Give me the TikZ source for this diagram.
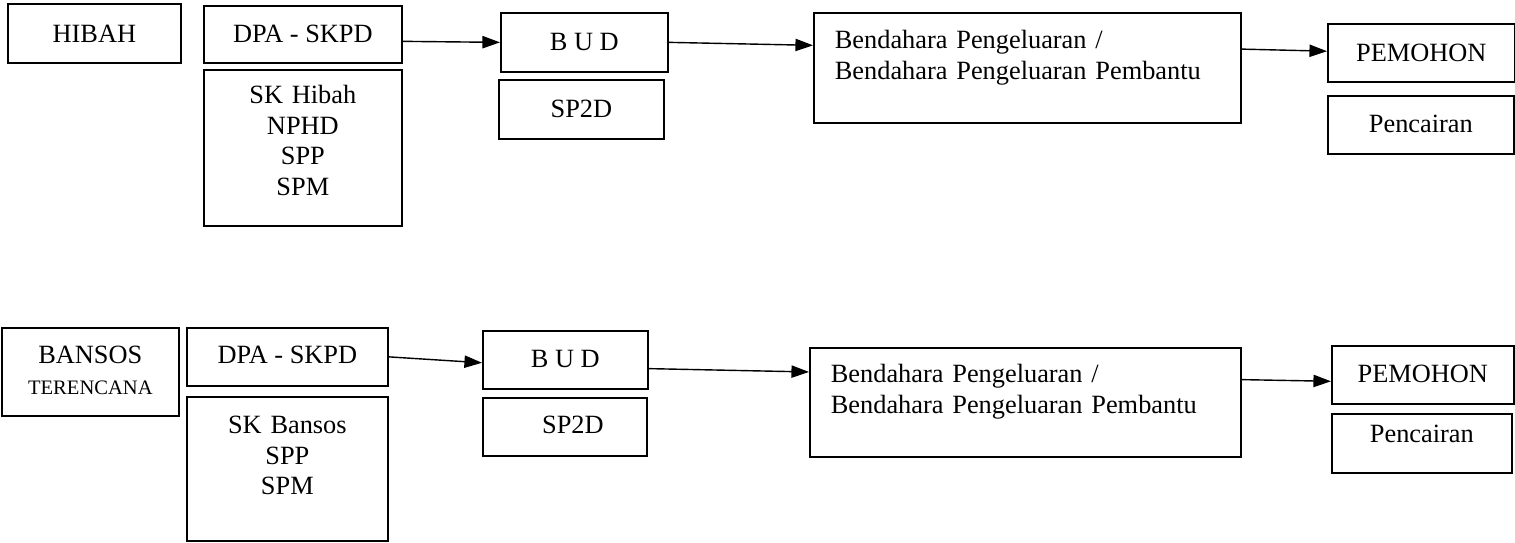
\documentclass[tikz,border=0pt]{standalone}
\usepackage{fontspec}
\setmainfont{Liberation Serif}
\usetikzlibrary{arrows.meta}

\tikzset{
  kotak/.style={draw, line width=1pt, inner sep=0pt, anchor=north west,
    font=\fontsize{15}{17.3}\selectfont},
  panah/.style={line width=0.8pt, -{Triangle[length=10pt,width=7pt]}}
}

\begin{document}
\begin{tikzpicture}[x=0.02cm,y=-0.02cm]
\useasboundingbox (0,0) rectangle (1515,543);

% baris hibah
\node[kotak,minimum width=3.46cm,text height=.78cm,text depth=.40cm]
(hibah) at (7,3) {HIBAH};
\node[kotak,minimum width=3.96cm,text height=.74cm,text depth=.40cm]
(dpa1) at (203,5) {DPA - SKPD};
\node[kotak,text width=3.96cm,align=center,text height=.68cm,text depth=2.44cm]
(skhibah) at (203,69) {SK Hibah\\NPHD\\SPP\\SPM};
\node[kotak,minimum width=3.34cm,text height=.76cm,text depth=.42cm]
(bud1) at (500,12) {B U D};
\node[kotak,minimum width=3.30cm,text height=.76cm,text depth=.42cm]
(sp2d1) at (498,79) {SP2D};
\node[kotak,inner xsep=.42cm,text width=7.70cm,align=left,text height=.72cm,text depth=1.48cm]
(bend1) at (813,12) {Bendahara Pengeluaran /\\Bendahara Pengeluaran Pembantu};
\node[kotak,minimum width=3.74cm,text height=.76cm,text depth=.40cm]
(pemohon1) at (1327,23) {PEMOHON};
\node[kotak,minimum width=3.72cm,text height=.74cm,text depth=.42cm]
(cair1) at (1327,95) {Pencairan};

% baris bansos
\node[kotak,text width=3.54cm,align=center,text height=.72cm,text depth=1.04cm]
(bansos) at (1,327) {BANSOS\\\fontsize{11.7}{14.2}\selectfont TERENCANA};
\node[kotak,minimum width=4.02cm,text height=.72cm,text depth=.44cm]
(dpa2) at (186,327) {DPA - SKPD};
\node[kotak,text width=4.02cm,align=center,text height=.74cm,text depth=2.14cm]
(skbansos) at (186,396) {SK Bansos\\SPP\\SPM};
\node[kotak,minimum width=3.30cm,text height=.74cm,text depth=.42cm]
(bud2) at (482,330) {B U D};
\node[kotak,minimum width=3.28cm,text height=.72cm,text depth=.44cm]
(sp2d2) at (482,397) {\hspace*{.32cm}SP2D};
\node[kotak,inner xsep=.42cm,text width=7.78cm,align=left,text height=.70cm,text depth=1.48cm]
(bend2) at (809,347) {Bendahara Pengeluaran /\\Bendahara Pengeluaran Pembantu};
\node[kotak,minimum width=3.64cm,text height=.74cm,text depth=.42cm]
(pemohon2) at (1331,345) {PEMOHON};
\node[kotak,minimum width=3.60cm,text height=.58cm,text depth=.60cm]
(cair2) at (1331,413) {Pencairan};

% panah
\draw[panah] (dpa1.-4) -- (bud1.west);

\draw[panah] (bud1.east) -- (bend1.174);

\draw[panah] (bend1.5) -- (pemohon1.179);

\draw[panah] (dpa2.east) -- (bud2.182);

\draw[panah] (bud2.-6) -- (bend2.172);

\draw[panah] (bend2.6) -- (pemohon2.184);

\end{tikzpicture}
\end{document}
